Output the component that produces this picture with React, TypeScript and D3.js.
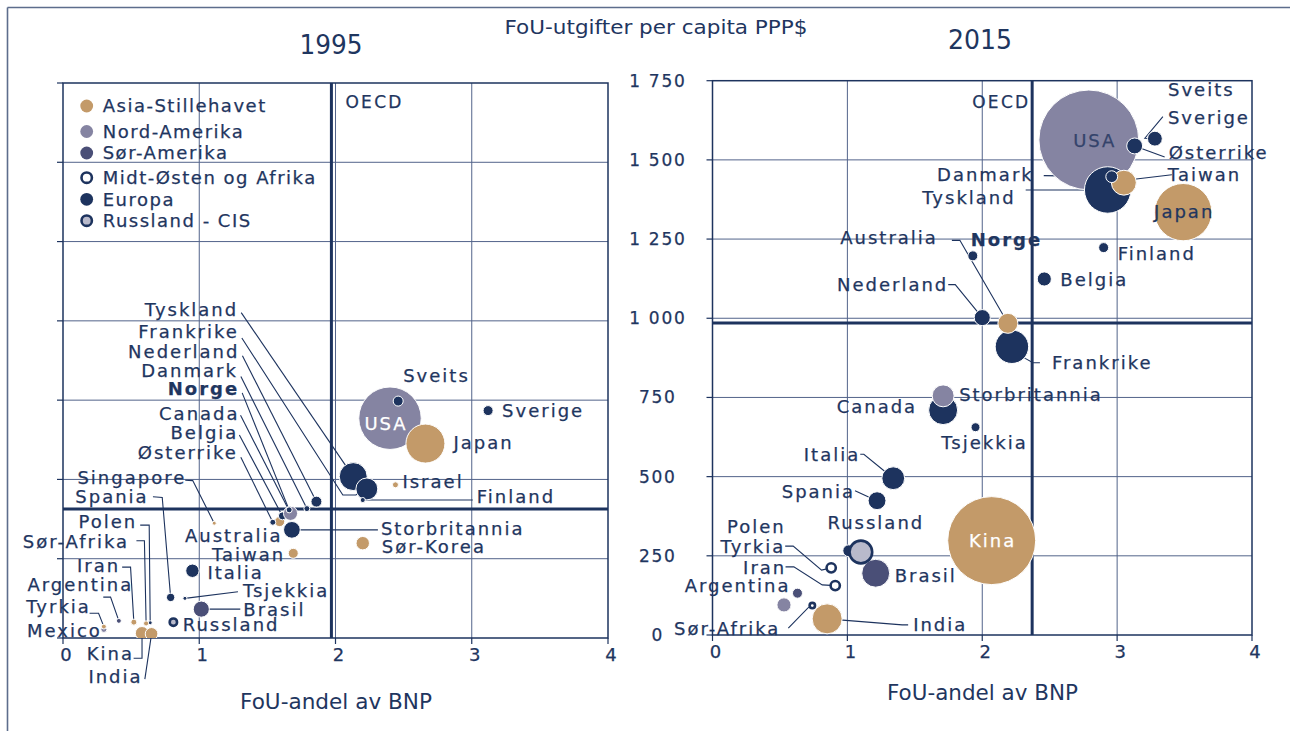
import React from 'react';
import * as d3 from 'd3';

const NAVY = '#1d335e';
const TAN = '#c39a69';
const LAV = '#8584a2';
const SLATE = '#4a4f77';
const RUS = '#b9bacb';
const TEXT = '#1f365f';
const GRID = '#52638a';
const FONT = '"DejaVu Sans", Verdana, sans-serif';
const LS = 2; // letter spacing of labels
const FS = 18; // label font size
const TSW = 0.25; // faint stroke to thicken text

// Legend / regions
const regionKeys = ['A', 'N', 'S', 'M', 'E', 'R'];
const regionLabels = ['Asia-Stillehavet', 'Nord-Amerika', 'Sør-Amerika', 'Midt-Østen og Afrika', 'Europa', 'Russland - CIS'];

// ---------- 1995 ----------
const names1995 = ['USA', 'Japan', 'Sveits', 'Sverige', 'Tyskland', 'Frankrike', 'Finland', 'Israel', 'Sør-Korea', 'Storbritannia', 'Australia', 'Østerrike', 'Belgia', 'Canada', 'Norge', 'Danmark', 'Nederland', 'Taiwan', 'Singapore', 'Italia', 'Brasil', 'Spania', 'Tsjekkia', 'Russland', 'Kina', 'India', 'Polen', 'Sør-Afrika', 'Iran', 'Argentina', 'Mexico', 'Tyrkia'];
const share1995 = [2.40, 2.66, 2.46, 3.12, 2.13, 2.23, 2.20, 2.44, 2.20, 1.68, 1.59, 1.54, 1.61, 1.67, 1.66, 1.79, 1.86, 1.69, 1.11, 0.95, 1.015, 0.79, 0.895, 0.81, 0.58, 0.65, 0.64, 0.61, 0.52, 0.41, 0.30, 0.30];
const perCapita1995 = [693, 613, 747, 717, 509, 470, 435, 483, 299, 341, 367, 365, 385, 393, 404, 408, 430, 267, 362, 212, 91, 128, 125, 50, 15, 13, 48, 46, 50, 54, 27, 36];
const volume1995 = [195, 76, 5, 5, 39, 24, 1.3, 1.8, 9, 14, 5, 1.8, 3.2, 10, 1.8, 1.8, 6, 5, 0.8, 9, 13, 3.5, 0.8, 5, 9, 8, 0.8, 1.3, 1.8, 1.2, 1.8, 1.2];
const region1995 = ['N', 'A', 'E', 'E', 'E', 'E', 'E', 'M', 'A', 'E', 'A', 'E', 'E', 'N', 'E', 'E', 'E', 'A', 'A', 'E', 'S', 'E', 'E', 'R', 'A', 'A', 'E', 'M', 'M', 'S', 'N', 'M'];

// ---------- 2015 ----------
const names2015 = ['USA', 'Tyskland', 'Taiwan', 'Danmark', 'Østerrike', 'Sverige', 'Japan', 'Finland', 'Belgia', 'Norge', 'Frankrike', 'Nederland', 'Australia', 'Storbritannia', 'Canada', 'Tsjekkia', 'Italia', 'Spania', 'Kina', 'Brasil', 'Polen', 'Russland', 'Tyrkia', 'Iran', 'India', 'Argentina', 'Mexico', 'Sør-Afrika', 'Sveits'];
const share2015 = [2.79, 2.93, 3.05, 2.96, 3.13, 3.28, 3.49, 2.90, 2.46, 1.93, 2.22, 2.00, 2.19, 1.71, 1.71, 1.95, 1.34, 1.22, 2.07, 1.21, 1.01, 1.10, 0.88, 0.91, 0.85, 0.63, 0.53, 0.74, 3.37];
const perCapita2015 = [1563, 1405, 1428, 1447, 1544, 1567, 1335, 1223, 1124, 1197, 910, 1002, 984, 710, 755, 656, 495, 424, 298, 195, 266, 262, 212, 156, 51, 132, 95, 93, 2000];
const volume2015 = [498, 108, 31, 7, 12.7, 11, 164, 5, 10, 5, 56, 13, 20, 42, 24, 4, 26, 16, 387, 39, 7, 32, 7, 7, 45, 5, 10, 3.2, 12];
const region2015 = ['N', 'E', 'A', 'E', 'E', 'E', 'A', 'E', 'E', 'E', 'E', 'E', 'A', 'E', 'N', 'E', 'E', 'E', 'A', 'S', 'E', 'R', 'M', 'M', 'A', 'S', 'N', 'M', 'E'];

// OECD averages [1995, 2015]
const oecdShare = [1.97, 2.37];
const oecdPerCapita = [407, 985];

const xTicks = [0, 1, 2, 3, 4];
const yTicks = [0, 250, 500, 750, 1000, 1250, 1500, 1750];

type Lab = { dx: number; dy: number; a: 'start' | 'end' | 'middle'; lead?: number[][]; fill?: string; bold?: boolean };

const labels1995: Record<string, Lab> = {
  USA: { dx: -5, dy: 5, a: 'middle', fill: '#ffffff' },
  Japan: { dx: 28, dy: -1, a: 'start' },
  Sveits: { dx: 5, dy: -25, a: 'start' },
  Sverige: { dx: 14, dy: 0, a: 'start' },
  Israel: { dx: 7, dy: -3, a: 'start' },
  Tyskland: { dx: -117, dy: -167, a: 'end', lead: [[-112, -164]] },
  Frankrike: { dx: -130, dy: -157, a: 'end', lead: [[-125, -151], [-24, 6], [-11, 6]] },
  Nederland: { dx: -79, dy: -150, a: 'end', lead: [[-74, -146]] },
  Danmark: { dx: -71, dy: -137.5, a: 'end', lead: [[-66, -132]] },
  Norge: { dx: -52, dy: -121, a: 'end', lead: [[-47, -117]], bold: true },
  Canada: { dx: -53, dy: -100, a: 'end', lead: [[-50, -98]] },
  Belgia: { dx: -46, dy: -83, a: 'end', lead: [[-43, -81]] },
  'Østerrike': { dx: -37, dy: -70, a: 'end', lead: [[-32, -65]] },
  Finland: { dx: 114, dy: -3, a: 'start', lead: [[110, 0]] },
  Storbritannia: { dx: 89, dy: -1.5, a: 'start', lead: [[86, 0]] },
  'Sør-Korea': { dx: 19, dy: 3.5, a: 'start' },
  Australia: { dx: 1, dy: 14, a: 'end' },
  Taiwan: { dx: -10, dy: 1, a: 'end' },
  Singapore: { dx: -30, dy: -45, a: 'end', lead: [[-29, -43], [-21.5, -42.6]] },
  Italia: { dx: 15, dy: 2, a: 'start' },
  Tsjekkia: { dx: 58, dy: -7.5, a: 'start', lead: [[53, -6.6]] },
  Spania: { dx: -24, dy: -100.6, a: 'end', lead: [[-17.7, -100.6], [-8.4, -100]] },
  Brasil: { dx: 42, dy: 0.5, a: 'start', lead: [[39, 0]] },
  Russland: { dx: 9.4, dy: 2.7, a: 'start' },
  Polen: { dx: -15, dy: -101, a: 'end', lead: [[-10, -97.7], [-1, -97.7]] },
  'Sør-Afrika': { dx: -19, dy: -82, a: 'end', lead: [[-9.7, -82.6], [-1.7, -82.6]] },
  Iran: { dx: -15.7, dy: -56, a: 'end', lead: [[-11.7, -55], [-3.3, -55]] },
  Argentina: { dx: 12.4, dy: -36, a: 'end', lead: [[-15.6, -23.7], [-8.3, -23.7]] },
  Tyrkia: { dx: -15, dy: -20, a: 'end', lead: [[-14.3, -13.4], [-5.3, -13.4]] },
  Mexico: { dx: -4, dy: 1, a: 'end' },
  Kina: { dx: -10, dy: 20, a: 'end', lead: [[-8.4, 25], [0, 25]] },
  India: { dx: -11, dy: 42.7, a: 'end', lead: [[-6.7, 45.3]] },
};

const labels2015: Record<string, Lab> = {
  USA: { dx: 5, dy: 1, a: 'middle', fill: '#34436b' },
  Sveits: { dx: 1, dy: 88.5, a: 'start' },
  Sverige: { dx: 13, dy: -21, a: 'start', lead: [[8, -22], [-10, -0.4]] },
  'Østerrike': { dx: 34, dy: 7, a: 'start', lead: [[30, 11]] },
  Taiwan: { dx: 44, dy: -8.4, a: 'start', lead: [[48, -8], [12.4, -3.7]] },
  Danmark: { dx: -80, dy: -2.4, a: 'end', lead: [[-68, -1]] },
  Tyskland: { dx: -94, dy: 8, a: 'end', lead: [[-82, 0]] },
  Japan: { dx: 0, dy: 0, a: 'middle' },
  Finland: { dx: 14, dy: 5.6, a: 'start' },
  Belgia: { dx: 16, dy: 1, a: 'start' },
  Norge: { dx: -2, dy: -16, a: 'start', bold: true },
  Australia: { dx: -72, dy: -86, a: 'end', lead: [[-56, -83], [-48, -83]] },
  Nederland: { dx: -36, dy: -33, a: 'end', lead: [[-34, -33], [-27, -33]] },
  Frankrike: { dx: 40, dy: 16, a: 'start', lead: [[28, 16], [21, 16], [13.3, 11.6]] },
  Canada: { dx: -28, dy: 11, a: 'end' },
  Storbritannia: { dx: 16, dy: -15, a: 'start' },
  Tsjekkia: { dx: 8, dy: 15, a: 'middle' },
  Italia: { dx: -35, dy: -24, a: 'end', lead: [[-33, -24], [-29.4, -24]] },
  Spania: { dx: -24, dy: -9, a: 'end', lead: [[-22, -10], [-9, -4]] },
  Russland: { dx: 14, dy: -29, a: 'middle' },
  Polen: { dx: -65, dy: -24, a: 'end' },
  Tyrkia: { dx: -48, dy: -21, a: 'end', lead: [[-46, -21.7], [-38, -21.7], [-9.6, 2.3]] },
  Iran: { dx: -51, dy: -18, a: 'end', lead: [[-49.7, -18.7], [-41.4, -18.7], [-13, -0.7]] },
  Brasil: { dx: 19, dy: 2, a: 'start' },
  Argentina: { dx: -9, dy: -7, a: 'end' },
  'Sør-Afrika': { dx: -34, dy: 23, a: 'end', lead: [[-24, 22.6], [-4.3, 2.3]] },
  India: { dx: 86, dy: 6, a: 'start', lead: [[81, 6], [75, 6]] },
  Kina: { dx: 0, dy: 0, a: 'middle', fill: '#ffffff' },
};

const rScale = d3.scaleSqrt().domain([0, 500]).range([0, 50]);

function bubbleStyle(region: string, year: string) {
  switch (region) {
    case 'A': return { fill: TAN, stroke: '#ffffff', sw: 1, ring: false };
    case 'N': return { fill: LAV, stroke: '#ffffff', sw: 1, ring: false };
    case 'S': return { fill: SLATE, stroke: '#ffffff', sw: 1, ring: false };
    case 'M': return year === '1995'
      ? { fill: TAN, stroke: '#ffffff', sw: 1, ring: false }
      : { fill: '#ffffff', stroke: NAVY, sw: 2.6, ring: true };
    case 'R': return { fill: RUS, stroke: NAVY, sw: 2.6, ring: true };
    default: return { fill: NAVY, stroke: '#ffffff', sw: 1, ring: false };
  }
}

function anchorShift(a: string, ls: number) {
  return a === 'end' ? ls : a === 'middle' ? ls / 2 : 0;
}

type PanelProps = {
  id: string;
  year: string;
  names: string[]; share: number[]; perCap: number[]; volume: number[]; region: string[];
  labels: Record<string, Lab>;
  xRange: [number, number]; yRange: [number, number];
  oecdIdx: number;
  oecdLabel: { dx: number; dy: number; a: 'start' | 'end' };
  yLabels: boolean;
  title: { x: number; y: number; w: number };
  axisTitle: { x: number; y: number; w: number };
};

function Panel(p: PanelProps) {
  const x = d3.scaleLinear().domain([0, 4]).range(p.xRange);
  const y = d3.scaleLinear().domain([0, 1750]).range(p.yRange);
  const [x0, x1] = p.xRange;
  const [yb, yt] = p.yRange;
  const fmt = d3.formatLocale({ decimal: ',', thousands: ' ', grouping: [3], currency: ['', ''] }).format(',');
  const ox = x(oecdShare[p.oecdIdx]);
  const oy = y(oecdPerCapita[p.oecdIdx]);
  const pts = p.names.map((n, i) => ({ n, cx: x(p.share[i]), cy: y(p.perCap[i]), r: rScale(p.volume[i]), reg: p.region[i] }));
  return (
    <g>
      <defs>
        <clipPath id={`clip-${p.id}`}>
          <rect x={x0} y={yt} width={x1 - x0} height={yb - yt} />
        </clipPath>
      </defs>
      {/* grid */}
      {xTicks.slice(1, -1).map(t => (
        <line key={`gx${t}`} x1={x(t)} x2={x(t)} y1={yt} y2={yb} stroke={GRID} strokeWidth={1} />
      ))}
      {yTicks.slice(1, -1).map(t => (
        <line key={`gy${t}`} x1={x0} x2={x1} y1={y(t)} y2={y(t)} stroke={GRID} strokeWidth={1} />
      ))}
      <rect x={x0} y={yt} width={x1 - x0} height={yb - yt} fill="none" stroke={NAVY} strokeWidth={1.5} />
      {/* ticks */}
      {xTicks.map(t => (
        <g key={`xt${t}`}>
          <line x1={x(t)} x2={x(t)} y1={yb} y2={yb + 6} stroke={NAVY} strokeWidth={1.2} />
          <text x={x(t) + 3} y={yb + 23} textAnchor="middle" fontSize={18} fill={TEXT} stroke={TEXT} strokeWidth={TSW}
            fontFamily={FONT}>{t}</text>
        </g>
      ))}
      {yTicks.map(t => (
        <g key={`yt${t}`}>
          <line x1={x0 - 6} x2={x0} y1={y(t)} y2={y(t)} stroke={NAVY} strokeWidth={1.2} />
          {p.yLabels && (
            <text x={x0 - 55.5 + 0.85} y={y(t)} dy="0.35em" textAnchor="middle" fontSize={17} fill={TEXT}
              stroke={TEXT} strokeWidth={TSW}
              fontFamily={FONT} style={{ letterSpacing: '1.7px' }}>{fmt(t)}</text>
          )}
        </g>
      ))}
      {/* OECD lines */}
      <line x1={ox} x2={ox} y1={yt} y2={yb} stroke={NAVY} strokeWidth={3} />
      <line x1={x0} x2={x1} y1={oy} y2={oy} stroke={NAVY} strokeWidth={3} />
      <text x={ox + p.oecdLabel.dx + (p.oecdLabel.a === 'end' ? 2.3 : 0)} y={yt + p.oecdLabel.dy} dy="0.35em" textAnchor={p.oecdLabel.a}
        fontSize={17} fill={TEXT} stroke={TEXT} strokeWidth={TSW} fontFamily={FONT} style={{ letterSpacing: '2.3px' }}>OECD</text>
      {/* leader lines */}
      {pts.map(d => {
        const l = p.labels[d.n];
        if (!l || !l.lead) return null;
        const path = d3.line()([...l.lead.map(([a, b]) => [d.cx + a, d.cy + b] as [number, number]), [d.cx, d.cy]]);
        return <path key={`ld${d.n}`} d={path || ''} fill="none" stroke={NAVY} strokeWidth={1.1} />;
      })}
      {/* bubbles */}
      <g clipPath={`url(#clip-${p.id})`}>
        {pts.map(d => {
          const s = bubbleStyle(d.reg, p.year);
          const r = s.ring ? Math.max(d.r - s.sw / 2, 1) : d.r;
          return <circle key={`c${d.n}`} cx={d.cx} cy={d.cy} r={r} fill={s.fill} stroke={s.stroke} strokeWidth={s.sw} />;
        })}
      </g>
      {/* labels */}
      {pts.map(d => {
        const l = p.labels[d.n];
        if (!l) return null;
        const c = l.fill || TEXT;
        return (
          <text key={`t${d.n}`} x={d.cx + l.dx + anchorShift(l.a, LS)} y={d.cy + l.dy} dy="0.35em" textAnchor={l.a}
            fontSize={FS} fontWeight={l.bold ? 'bold' : 'normal'} fill={c} stroke={c} strokeWidth={TSW} fontFamily={FONT}
            style={{ letterSpacing: `${LS}px` }}>{d.n}</text>
        );
      })}
      {/* titles */}
      <text x={p.title.x} y={p.title.y} dy="0.35em" textAnchor="middle" fontSize={26} fill={TEXT} fontFamily={FONT}
        textLength={p.title.w} lengthAdjust="spacingAndGlyphs">{p.year}</text>
      <text x={p.axisTitle.x} y={p.axisTitle.y} dy="0.35em" textAnchor="middle" fontSize={20.5} fill={TEXT} fontFamily={FONT}
        textLength={p.axisTitle.w} lengthAdjust="spacingAndGlyphs">FoU-andel av BNP</text>
    </g>
  );
}

function Legend() {
  const ys = [106, 131.5, 153, 177.7, 199.3, 220.7];
  return (
    <g>
      {regionKeys.map((k, i) => {
        const s = bubbleStyle(k, '2015');
        return (
          <g key={k}>
            <circle cx={86.7} cy={ys[i]} r={s.ring ? 5.2 : 6.4} fill={s.fill} stroke={s.ring ? NAVY : 'none'} strokeWidth={s.ring ? 2.6 : 0} />
            <text x={102.7} y={ys[i]} dy="0.35em" fontSize={18} fill={TEXT} stroke={TEXT} strokeWidth={TSW} fontFamily={FONT}
              style={{ letterSpacing: '1.5px' }}>{regionLabels[i]}</text>
          </g>
        );
      })}
    </g>
  );
}

export default function App() {
  return (
    <svg width={1290} height={731} style={{ position: 'absolute', left: 0, top: 0, background: '#fff' }}>
      <rect x={0} y={0} width={1290} height={731} fill="#ffffff" />
      <line x1={7.5} x2={1290} y1={7.5} y2={7.5} stroke="#5d6d8c" strokeWidth={1.6} />
      <line x1={7.5} x2={7.5} y1={7.5} y2={731} stroke="#5d6d8c" strokeWidth={1.6} />
      <text x={656} y={27} dy="0.35em" textAnchor="middle" fontSize={20} fill={TEXT} fontFamily={FONT}
        textLength={303} lengthAdjust="spacingAndGlyphs">FoU-utgifter per capita PPP$</text>
      <Panel id="p1995" year="1995" names={names1995} share={share1995} perCap={perCapita1995} volume={volume1995}
        region={region1995} labels={labels1995} xRange={[63, 608]} yRange={[638, 83]} oecdIdx={0}
        oecdLabel={{ dx: 14, dy: 19, a: 'start' }} yLabels={false}
        title={{ x: 331, y: 45, w: 63 }} axisTitle={{ x: 336, y: 702, w: 192 }} />
      <Panel id="p2015" year="2015" names={names2015} share={share2015} perCap={perCapita2015} volume={volume2015}
        region={region2015} labels={labels2015} xRange={[712.5, 1252]} yRange={[635, 80.7]} oecdIdx={1}
        oecdLabel={{ dx: -4, dy: 21, a: 'end' }} yLabels={true}
        title={{ x: 980, y: 40, w: 64 }} axisTitle={{ x: 982.5, y: 693, w: 191 }} />
      <Legend />
    </svg>
  );
}
